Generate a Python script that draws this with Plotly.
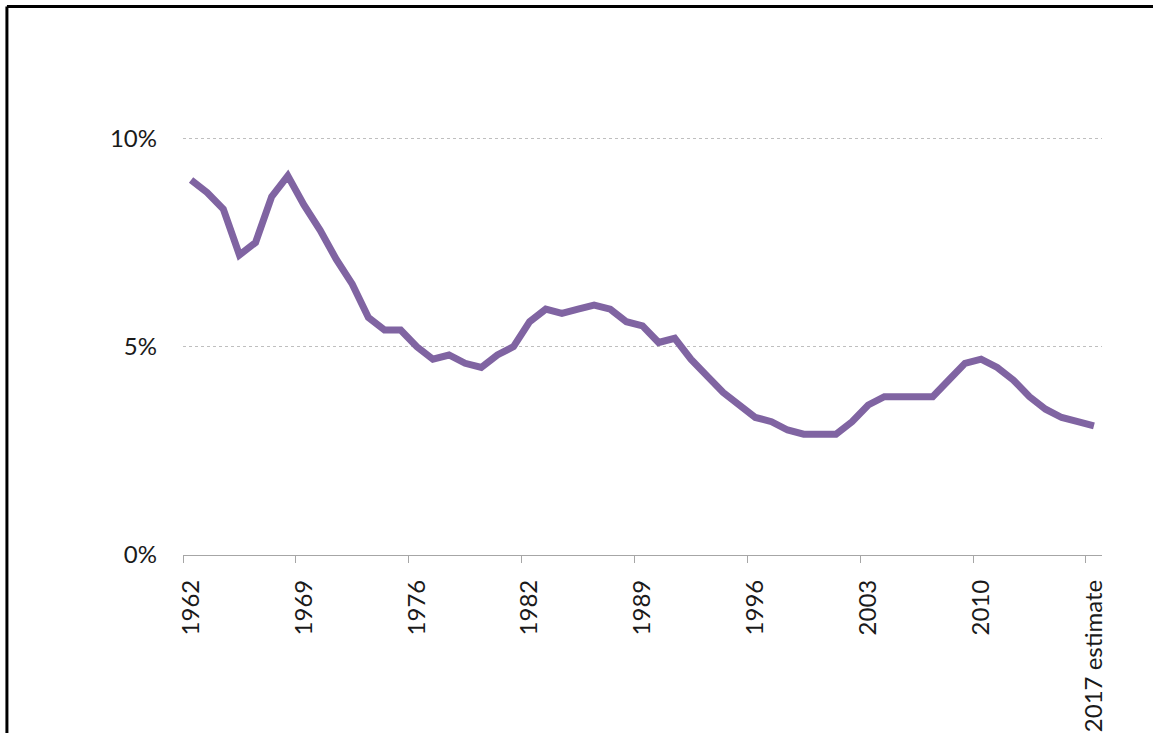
import plotly.graph_objects as go

# Category labels (fiscal years incl. transition quarter)
categories = (
    [str(y) for y in range(1962, 1977)]
    + ["TQ"]
    + [str(y) for y in range(1977, 2017)]
    + ["2017 estimate"]
)

values = [
    9.0, 8.7, 8.3, 7.2, 7.5, 8.6, 9.1, 8.4, 7.8, 7.1,   # 1962-1971
    6.5, 5.7, 5.4, 5.4, 5.0,                            # 1972-1976
    4.7,                                                # TQ
    4.8, 4.6, 4.5, 4.8, 5.0, 5.6, 5.9, 5.8, 5.9, 6.0,   # 1977-1986
    5.9, 5.6, 5.5, 5.1, 5.2, 4.7, 4.3, 3.9, 3.6, 3.3,   # 1987-1996
    3.2, 3.0, 2.9, 2.9, 2.9, 3.2, 3.6, 3.8, 3.8, 3.8,   # 1997-2006
    3.8, 4.2, 4.6, 4.7, 4.5, 4.2, 3.8, 3.5, 3.3, 3.2,   # 2007-2016
    3.1,                                                # 2017 estimate
]

tick_labels = ["1962", "1969", "1976", "1982", "1989", "1996", "2003", "2010", "2017 estimate"]
y_ticks = [0, 5, 10]
y_tick_labels = ["0%", "5%", "10%"]

idx = list(range(len(categories)))
label_pos = [categories.index(t) for t in tick_labels]
boundary_pos = [p - 0.5 for p in label_pos]

fig = go.Figure()
fig.add_trace(go.Scatter(
    x=idx, y=values, mode="lines",
    line=dict(color="#8064A2", width=7),
    customdata=categories,
    hovertemplate="%{customdata}: %{y}%<extra></extra>",
    showlegend=False,
))

font_family = "Lato, Open Sans, sans-serif"

fig.update_layout(
    width=1153, height=733,
    margin=dict(l=183, r=51, t=55, b=178, pad=0, autoexpand=False),
    paper_bgcolor="white", plot_bgcolor="white",
    font=dict(family=font_family, size=24, color="#1a1a1a"),
    xaxis=dict(
        range=[-0.5, len(categories) - 0.5],
        tickmode="array", tickvals=label_pos, ticktext=tick_labels,
        tickangle=-90, ticks="", ticklabelstandoff=14,
        showgrid=False, zeroline=False, automargin=False,
        showline=True, linecolor="#A6A6A6", linewidth=1.3,
        minor=dict(tickmode="array", tickvals=boundary_pos, ticks="outside",
                   ticklen=7, tickcolor="#A6A6A6", tickwidth=1.3, showgrid=False),
        fixedrange=True,
    ),
    yaxis=dict(
        range=[0, 12],
        tickmode="array", tickvals=y_ticks, ticktext=y_tick_labels,
        ticks="", ticklabelstandoff=25, automargin=False,
        showgrid=True, gridcolor="#BFBFBF", griddash="dot", gridwidth=1,
        zeroline=False, showline=False,
        fixedrange=True,
    ),
    shapes=[
        dict(type="line", xref="paper", yref="paper",
             x0=-0.1916, x1=1.2, y0=1.097, y1=1.097,
             line=dict(color="black", width=3)),
        dict(type="line", xref="paper", yref="paper",
             x0=-0.1916, x1=-0.1916, y0=1.097, y1=-0.5,
             line=dict(color="black", width=3)),
    ],
)

fig.write_html(
    "out.html",
    config={"displayModeBar": False},
    post_script="document.body.style.margin='0';document.body.style.overflow='hidden';",
)
